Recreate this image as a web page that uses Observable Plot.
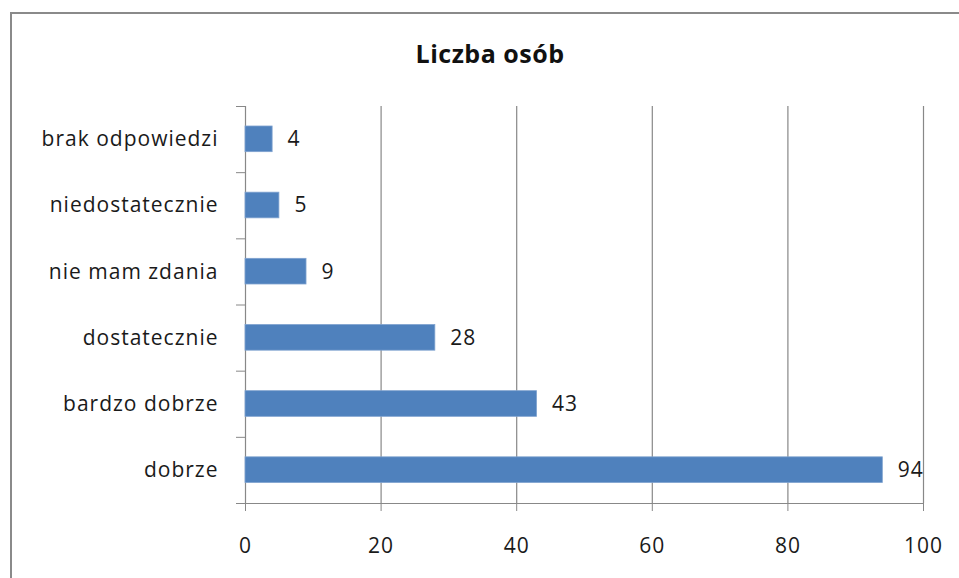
<!DOCTYPE html>
<html>
<head>
<meta charset="utf-8">
<script src="https://cdn.jsdelivr.net/npm/d3@7"></script>
<script src="https://cdn.jsdelivr.net/npm/@observablehq/plot@0.6"></script>
<style>
  html, body { margin: 0; padding: 0; background: #fff; }
  #wrap { position: relative; width: 959px; height: 578px; overflow: hidden; background: #fff; }
  #border { position: absolute; left: 10px; top: 12px; width: 1000px; height: 1000px; border: 2.5px solid #8a8a8a; box-sizing: border-box; }
  #title { position: absolute; left: 0; top: 36px; width: 980px; text-align: center; font-family: "Open Sans", sans-serif; font-weight: bold; font-size: 25px; line-height: 34px; letter-spacing: 0.5px; color: #111; }
  #chart { position: absolute; left: 0; top: 0; }
  #chart svg text { letter-spacing: 1px; }
</style>
</head>
<body>
<div id="wrap">
  <div id="border"></div>
  <div id="chart"></div>
  <div id="title">Liczba osób</div>
</div>
<script>
const categories = ["brak odpowiedzi", "niedostatecznie", "nie mam zdania", "dostatecznie", "bardzo dobrze", "dobrze"];
const values = [4, 5, 9, 28, 43, 94];
const xTicks = [0, 20, 40, 60, 80, 100];

const data = categories.map((c, i) => ({category: c, index: i, value: values[i]}));

const chart = Plot.plot({
  width: 959,
  height: 578,
  marginLeft: 245,
  marginRight: 36,
  marginTop: 106,
  marginBottom: 75,
  style: {fontFamily: "Open Sans, sans-serif", fontSize: "21px", color: "#1a1a1a", background: "transparent"},
  x: {domain: [0, 100], label: null},
  y: {domain: [0, categories.length], reverse: true, label: null},
  marks: [
    Plot.ruleX(xTicks, {stroke: "#888", strokeWidth: 1.2, strokeOpacity: 1}),
    Plot.ruleY([categories.length], {stroke: "#888", strokeWidth: 1.2}),
    Plot.axisX({ticks: xTicks, tickSize: 8, tickPadding: 27, label: null, stroke: "#888", strokeOpacity: 1, fontSize: 21, fill: "#1a1a1a"}),
    Plot.axisY({ticks: d3.range(0, categories.length + 1), tickSize: 9, label: null, tickFormat: () => "", stroke: "#888", strokeOpacity: 1}),
    Plot.axisY({ticks: categories.map((_, i) => i + 0.5), tickSize: 0, tickPadding: 27, label: null, tickFormat: t => categories[Math.floor(t)], fontSize: 21, fill: "#1a1a1a"}),
    Plot.rectX(data, {x1: 0, x2: "value", y1: "index", y2: d => d.index + 1, insetTop: 20, insetBottom: 20.5, fill: "#4F81BD", stroke: "#7fa2cf", strokeWidth: 0.8}),
    Plot.text(data, {x: "value", y: d => d.index + 0.5, text: d => String(d.value), textAnchor: "start", dx: 15, fontSize: 21, fill: "#1a1a1a"})
  ]
});
document.getElementById("chart").appendChild(chart);
</script>
</body>
</html>
